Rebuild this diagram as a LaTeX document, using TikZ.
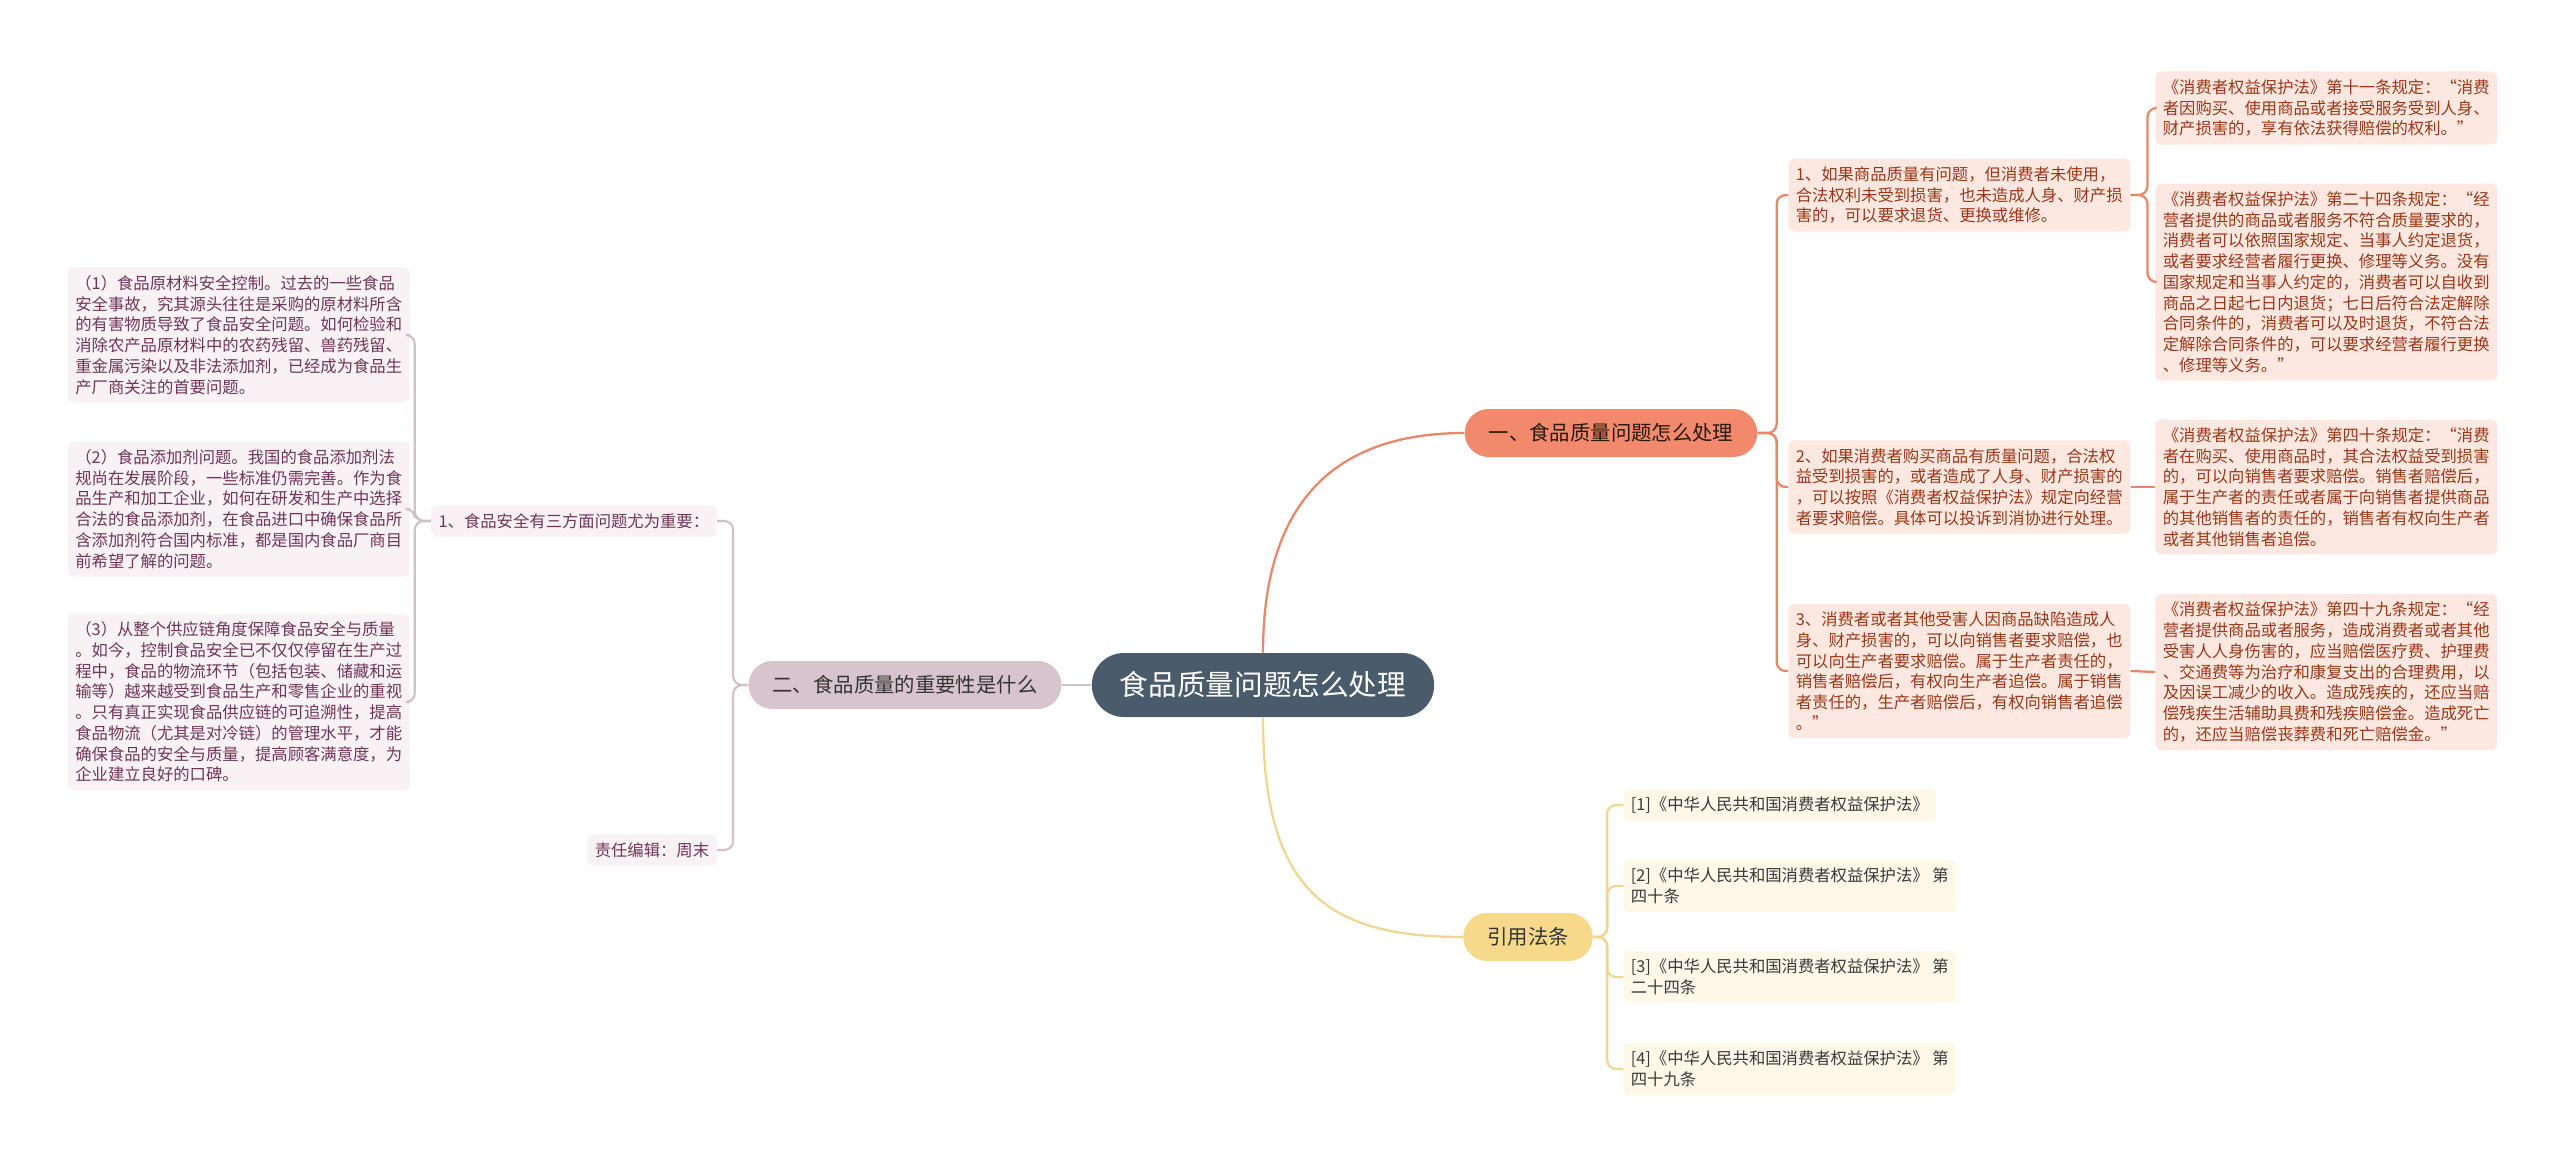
\documentclass[tikz,border=0pt]{standalone}
\usepackage{fontspec}
\newfontfamily\cjk{Noto Sans CJK SC}
\usepackage{xcolor}
\definecolor{rootfill}{HTML}{4A5B6B}
\definecolor{onefill}{HTML}{F3896C}
\definecolor{twofill}{HTML}{D8C4CC}
\definecolor{citefill}{HTML}{F6D98B}
\definecolor{orangeln}{HTML}{E9876A}
\definecolor{pinkln}{HTML}{D3BFC7}
\definecolor{yellowln}{HTML}{F0D690}
\definecolor{lfill}{HTML}{F8F2F4}
\definecolor{ltext}{HTML}{713559}
\definecolor{rfill}{HTML}{FDE8E1}
\definecolor{rtext}{HTML}{9B3717}
\definecolor{cfill}{HTML}{FDF8E8}
\definecolor{ctext}{HTML}{3A3A3A}

\begin{document}
\begin{tikzpicture}[
  x=0.02cm, y=-0.02cm,
  root/.style={rectangle, rounded corners=0.64cm, fill=rootfill, text=white, minimum height=1.28cm, inner xsep=0.56cm, font={\cjk\fontsize{16.3pt}{19pt}\selectfont}},
  topic/.style={rectangle, rounded corners=0.48cm, minimum height=0.96cm, inner xsep=0.48cm, font={\cjk\fontsize{11.6pt}{14pt}\selectfont}},
  leaf/.style={rectangle, rounded corners=0.12cm, align=left, inner xsep=0.15cm, inner ysep=0.16cm, font={\cjk\fontsize{9.3pt}{11.8pt}\selectfont}},
  lleaf/.style={leaf, fill=lfill, text=ltext},
  rleaf/.style={leaf, fill=rfill, text=rtext},
  cleaf/.style={leaf, fill=cfill, text=ctext},
  oline/.style={draw=orangeln, line width=1.3pt},
  pline/.style={draw=pinkln, line width=1.2pt},
  yline/.style={draw=yellowln, line width=1.3pt}
]
\fill[white] (0,0) rectangle (2560,1167);

% centre and main topics
\node[root] (root) at (1263,685) {食品质量问题怎么处理};
\node[topic, fill=onefill, text=black!80!brown] (one) at (1611,433) {一、食品质量问题怎么处理};
\node[topic, fill=twofill, text=black!80] (two) at (905,685) {二、食品质量的重要性是什么};
\node[topic, fill=citefill, text=black!80] (cite) at (1528,937) {引用法条};

\draw[oline] (root.north) .. controls +(0,-150) and +(-130,0) .. (one.west);
\draw[yline] (root.south) .. controls +(0,170) and +(-140,0) .. (cite.west);
\draw[pline] (root.west) -- (two.east);

% left branch
\node[lleaf, anchor=east] (k1) at (717,521) {1、食品安全有三方面问题尤为重要：};
\node[lleaf, anchor=east] (k2) at (717,850) {责任编辑：周末};
\node[lleaf, anchor=east] (l1) at (410,335) {（1）食品原材料安全控制。过去的一些食品\\安全事故，究其源头往往是采购的原材料所含\\的有害物质导致了食品安全问题。如何检验和\\消除农产品原材料中的农药残留、兽药残留、\\重金属污染以及非法添加剂，已经成为食品生\\产厂商关注的首要问题。};
\node[lleaf, anchor=east] (l2) at (410,509) {（2）食品添加剂问题。我国的食品添加剂法\\规尚在发展阶段，一些标准仍需完善。作为食\\品生产和加工企业，如何在研发和生产中选择\\合法的食品添加剂，在食品进口中确保食品所\\含添加剂符合国内标准，都是国内食品厂商目\\前希望了解的问题。};
\node[lleaf, anchor=east] (l3) at (410,702) {（3）从整个供应链角度保障食品安全与质量\\。如今，控制食品安全已不仅仅停留在生产过\\程中，食品的物流环节（包括包装、储藏和运\\输等）越来越受到食品生产和零售企业的重视\\。只有真正实现食品供应链的可追溯性，提高\\食品物流（尤其是对冷链）的管理水平，才能\\确保食品的安全与质量，提高顾客满意度，为\\企业建立良好的口碑。};

\foreach \k in {k1,k2}
  \draw[pline, rounded corners=0.18cm] (two.west) -- ++(-15,0) |- (\k.east);
\foreach \l in {l1,l2,l3}
  \draw[pline, rounded corners=0.18cm] (k1.west) -- ++(-16,0) |- (\l.east);

% right branch
\node[rleaf, anchor=west] (r1) at (1788,195) {1、如果商品质量有问题，但消费者未使用，\\合法权利未受到损害，也未造成人身、财产损\\害的，可以要求退货、更换或维修。};
\node[rleaf, anchor=west] (r2) at (1788,487) {2、如果消费者购买商品有质量问题，合法权\\益受到损害的，或者造成了人身、财产损害的\\，可以按照《消费者权益保护法》规定向经营\\者要求赔偿。具体可以投诉到消协进行处理。};
\node[rleaf, anchor=west] (r3) at (1788,671) {3、消费者或者其他受害人因商品缺陷造成人\\身、财产损害的，可以向销售者要求赔偿，也\\可以向生产者要求赔偿。属于生产者责任的，\\销售者赔偿后，有权向生产者追偿。属于销售\\者责任的，生产者赔偿后，有权向销售者追偿\\。”};
\node[rleaf, anchor=west] (r1a) at (2155,108) {《消费者权益保护法》第十一条规定：“消费\\者因购买、使用商品或者接受服务受到人身、\\财产损害的，享有依法获得赔偿的权利。”};
\node[rleaf, anchor=west] (r1b) at (2155,282) {《消费者权益保护法》第二十四条规定：“经\\营者提供的商品或者服务不符合质量要求的，\\消费者可以依照国家规定、当事人约定退货，\\或者要求经营者履行更换、修理等义务。没有\\国家规定和当事人约定的，消费者可以自收到\\商品之日起七日内退货；七日后符合法定解除\\合同条件的，消费者可以及时退货，不符合法\\定解除合同条件的，可以要求经营者履行更换\\、修理等义务。”};
\node[rleaf, anchor=west] (r2a) at (2155,487) {《消费者权益保护法》第四十条规定：“消费\\者在购买、使用商品时，其合法权益受到损害\\的，可以向销售者要求赔偿。销售者赔偿后，\\属于生产者的责任或者属于向销售者提供商品\\的其他销售者的责任的，销售者有权向生产者\\或者其他销售者追偿。};
\node[rleaf, anchor=west] (r3a) at (2155,672) {《消费者权益保护法》第四十九条规定：“经\\营者提供商品或者服务，造成消费者或者其他\\受害人人身伤害的，应当赔偿医疗费、护理费\\、交通费等为治疗和康复支出的合理费用，以\\及因误工减少的收入。造成残疾的，还应当赔\\偿残疾生活辅助具费和残疾赔偿金。造成死亡\\的，还应当赔偿丧葬费和死亡赔偿金。”};

\foreach \r in {r1,r2,r3}
  \draw[oline, rounded corners=0.18cm] (one.east) -- ++(19,0) |- (\r.west);
\foreach \r in {r1a,r1b}
  \draw[oline, rounded corners=0.18cm] (r1.east) -- ++(17,0) |- (\r.west);
\draw[oline] (r2.east) -- (r2a.west);
\draw[oline] (r3.east) -- (r3a.west);

% citations
\node[cleaf, anchor=west] (c1) at (1623,805) {[1]《中华人民共和国消费者权益保护法》};
\node[cleaf, anchor=west] (c2) at (1623,886) {[2]《中华人民共和国消费者权益保护法》 第\\四十条};
\node[cleaf, anchor=west] (c3) at (1623,977) {[3]《中华人民共和国消费者权益保护法》 第\\二十四条};
\node[cleaf, anchor=west] (c4) at (1623,1069) {[4]《中华人民共和国消费者权益保护法》 第\\四十九条};

\foreach \c in {c1,c2,c3,c4}
  \draw[yline, rounded corners=0.18cm] (cite.east) -- ++(14,0) |- (\c.west);
\end{tikzpicture}
\end{document}
